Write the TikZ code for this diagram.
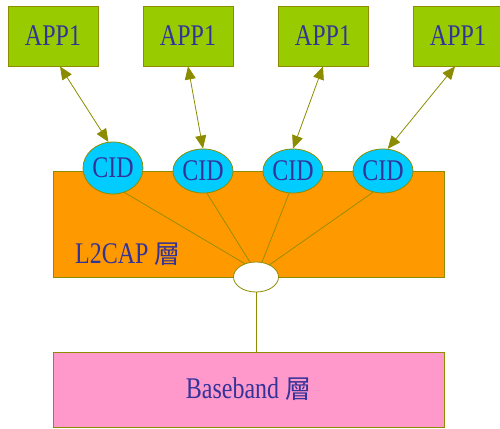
\documentclass[tikz,border=0pt]{standalone}
\usepackage{fontspec}
\setmainfont[FakeStretch=0.8]{Liberation Serif}
\newfontfamily\cjk{Noto Sans CJK TC}
\usetikzlibrary{shapes.geometric,arrows.meta}
\definecolor{appgreen}{HTML}{99CC00}
\definecolor{cidblue}{HTML}{00CCFF}
\definecolor{layerorange}{HTML}{FF9900}
\definecolor{layerpink}{HTML}{FF99CC}
\definecolor{olivepen}{HTML}{8C8C00}
\definecolor{inkblue}{HTML}{333399}
\tikzset{
  labelfont/.style={font=\fontsize{30}{32}\selectfont, text=inkblue},
  appbox/.style={draw=olivepen, line width=0.8pt, fill=appgreen, minimum width=90pt,
    minimum height=60pt, inner sep=0pt, labelfont},
  layerbox/.style={draw=olivepen, line width=0.8pt, minimum width=391pt, inner sep=0pt, labelfont},
  cidnode/.style={ellipse, draw=olivepen, line width=0.8pt, fill=cidblue, minimum width=60pt,
    minimum height=44pt, inner sep=0pt, labelfont},
  muxnode/.style={ellipse, draw=olivepen, line width=0.8pt, fill=white, minimum width=45pt,
    minimum height=30pt, inner sep=0pt},
  link/.style={draw=olivepen, line width=0.7pt},
  chan/.style={draw=olivepen, line width=0.8pt, {Triangle[length=13pt,width=11pt]}-{Triangle[length=13pt,width=11pt]}}
}
\newcommand{\cengchar}{{\cjk\fontsize{26}{28}\selectfont 層}}
\begin{document}
\begin{tikzpicture}[x=1pt, y=-1pt]
  \useasboundingbox (0,0) rectangle (500,428);
  \begin{scope}
    \clip (0,0) rectangle (500,428);
    % applications
    \node[appbox] (a1) at (53,36) {APP1};
    \node[appbox] (a2) at (188,36) {APP1};
    \node[appbox] (a3) at (323,36) {APP1};
    \node[appbox] (a4) at (458,36) {APP1};
  \end{scope}
  % protocol layers
  \node[layerbox, fill=layerorange, minimum height=106pt] (l2) at (248.5,224) {};
  \node[labelfont, anchor=base west, inner sep=0pt] (l2txt) at (75,263) {L2CAP \cengchar};
  \node[layerbox, fill=layerpink, minimum height=75pt] (bb) at (248.5,389.5) {Baseband \cengchar};
  % channel identifiers
  \node[cidnode, minimum height=52pt] (c1) at (113,168) {CID};
  \node[cidnode] (c2) at (203,171) {CID};
  \node[cidnode] (c3) at (293,171) {CID};
  \node[cidnode] (c4) at (383,171) {CID};
  % multiplexer
  \node[muxnode] (w) at (256,277) {};
  % links between channels and the multiplexer
  \draw[link] (c1.-65) -- (w.130);
  \draw[link] (c2.-80) -- (w.112);
  \draw[link] (c3.-100) -- (w.68);
  \draw[link] (c4.-115) -- (w.42);
  \draw[link] (w.south) -- (bb.north -| w.south);
  % application to channel arrows
  \draw[chan] ([xshift=7pt]a1.south) -- (c1.100);
  \draw[chan] (a2.south) -- (c2.north);
  \draw[chan] (a3.south) -- (c3.north);
  \draw[chan] ([xshift=-3pt]a4.south) -- (c4.78);
\end{tikzpicture}
\end{document}
